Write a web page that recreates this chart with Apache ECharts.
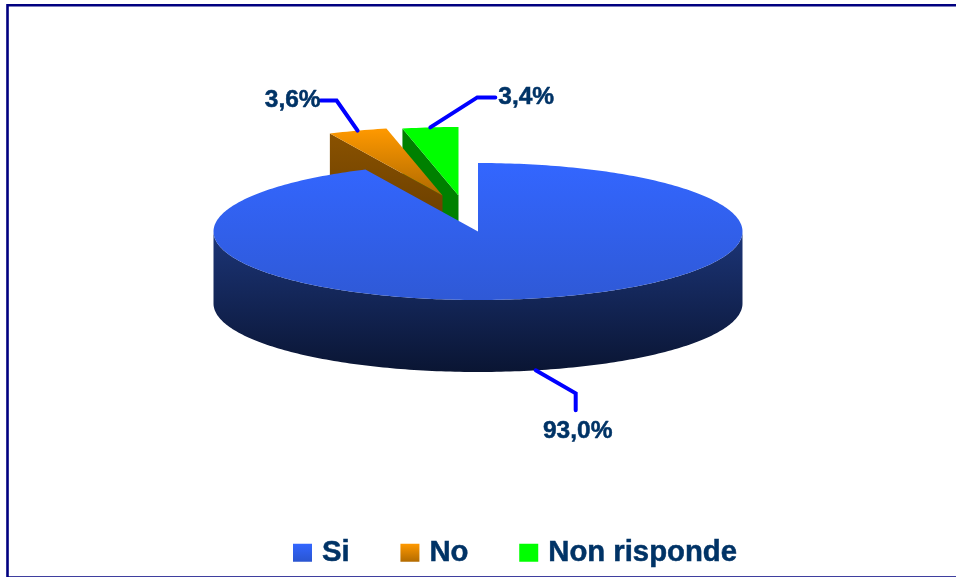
<!DOCTYPE html>
<html>
<head>
<meta charset="utf-8">
<style>html,body{margin:0;padding:0;background:#fff}#c{width:956px;height:577px}</style>
<script src="https://cdn.jsdelivr.net/npm/echarts@6/dist/echarts.min.js"></script>
</head>
<body>
<div id="c"></div>
<script>
const categories = ['Si', 'No', 'Non risponde'];
const percentages = [93.0, 3.6, 3.4];

const CX = 478, CY = 231.5, RX = 264.5, RY = 68.5, DEPTH = 72;
const explode = [[0, 0], [-35.5, -36], [-19.5, -36]];
const INK = '#003366', LEADER = '#0000ff';
const vgrad = (a, b) => new echarts.graphic.LinearGradient(0, 0, 0, 1, [{offset: 0, color: a}, {offset: 1, color: b}]);
const topFill = [vgrad('#3366ff', '#2f59d6'), vgrad('#ff9900', '#b06a00'), '#00ff00'];
const wallFill = [vgrad('#1c3578', '#0a1533'), vgrad('#8a5200', '#5a3500'), '#008000'];
const swatch = [vgrad('#3366ff', '#2a55d0'), vgrad('#ff9900', '#b36b00'), '#00ff00'];

const total = percentages.reduce((a, b) => a + b, 0);
const starts = percentages.map((_, i) => percentages.slice(0, i).reduce((a, b) => a + b, 0) / total * 360);
const ends = percentages.map((_, i) => percentages.slice(0, i + 1).reduce((a, b) => a + b, 0) / total * 360);

function rim(deg, i, drop) {
  const t = deg * Math.PI / 180;
  return [CX + explode[i][0] + RX * Math.sin(t), CY + explode[i][1] - RY * Math.cos(t) + (drop || 0)];
}
function arc(a, b, i, drop) {
  const pts = [];
  for (let d = a; d < b; d += 1) pts.push(rim(d, i, drop));
  pts.push(rim(b, i, drop));
  return pts;
}
const fmt = v => v.toFixed(1).replace('.', ',') + '%';

// leader: bend and end relative to the anchor on the slice, then the label
const leaders = [
  {drop: DEPTH, bend: [40, 23], end: [40, 40], text: [42, 61], align: 'center'},
  {drop: 0, bend: [-21, -30], end: [-37, -30], text: [-37, -30], align: 'right'},
  {drop: 0, bend: [47, -30], end: [65, -30], text: [68, -30], align: 'left'}
];

function renderSlice(i) {
  return function () {
    const a = starts[i], b = ends[i], kids = [];
    const apex = [CX + explode[i][0], CY + explode[i][1]];
    if (i === 0) {
      // visible curved front wall
      const lo = Math.max(a, 90), hi = Math.min(b, 270);
      const up = arc(lo, hi, i, 0), dn = arc(lo, hi, i, DEPTH).reverse();
      kids.push({type: 'polygon', shape: {points: up.concat(dn)}, style: {fill: wallFill[i]}});
    } else {
      // visible inner cut face on the starting edge
      const o = rim(a, i, 0);
      kids.push({type: 'polygon', shape: {points: [o, apex, [apex[0], apex[1] + DEPTH], [o[0], o[1] + DEPTH]]}, style: {fill: wallFill[i]}});
    }
    kids.push({type: 'polygon', shape: {points: [apex].concat(arc(a, b, i, 0))}, style: {fill: topFill[i]}});

    const L = leaders[i];
    const p0 = rim((a + b) / 2, i, L.drop);
    const at = d => [p0[0] + d[0], p0[1] + d[1]];
    kids.push({type: 'polyline', shape: {points: [p0, at(L.bend), at(L.end)]},
      style: {fill: 'none', stroke: LEADER, lineWidth: 4, lineCap: 'round', lineJoin: 'miter'}});
    const tp = at(L.text);
    kids.push({type: 'text', x: tp[0], y: tp[1], style: {
      text: fmt(percentages[i]), fill: INK, font: 'bold 24.5px "Liberation Sans", Arial, sans-serif',
      stroke: INK, lineWidth: 0.5,
      textAlign: L.align, textVerticalAlign: 'middle'}});
    return {type: 'group', children: kids};
  };
}

const drawOrder = [2, 1, 0];
const chart = echarts.init(document.getElementById('c'), null, {width: 956, height: 577});
chart.setOption({
  backgroundColor: '#ffffff',
  animation: false,
  graphic: [{type: 'rect', silent: true, z: -1,
    shape: {x: 7.5, y: 5.3, width: 960, height: 572.2},
    style: {fill: 'none', stroke: '#000080', lineWidth: 2.6}}],
  legend: {
    left: 288, top: 533, itemWidth: 19, itemHeight: 18, itemGap: 50.5, selectedMode: false,
    icon: 'rect',
    textStyle: {color: INK, fontFamily: '"Liberation Sans", Arial, sans-serif', fontWeight: 'bold', fontSize: 29.3, padding: [0, 0, 0, 5], textBorderColor: INK, textBorderWidth: 0.5},
    data: categories.map((name, i) => ({name, itemStyle: {color: swatch[i]}}))
  },
  series: drawOrder.map(i => ({
    type: 'custom', name: categories[i], coordinateSystem: 'none', silent: true,
    itemStyle: {color: typeof swatch[i] === 'string' ? swatch[i] : swatch[i].colorStops[0].color},
    renderItem: renderSlice(i), data: [[percentages[i]]]
  }))
});
</script>
</body>
</html>
